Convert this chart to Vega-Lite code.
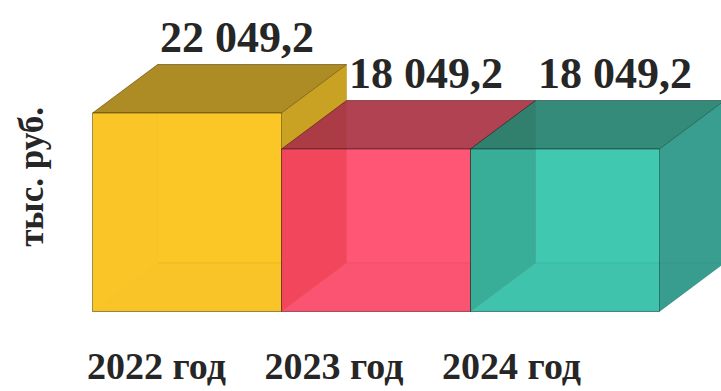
{
  "$schema": "https://vega.github.io/schema/vega-lite/v6.json",
  "autosize": {"type": "none"},
  "padding": {"left": 92.5, "top": 41.4428, "right": 61.5, "bottom": 79.5572},
  "width": 567,
  "height": 270,
  "background": "white",
  "config": {
    "view": {"stroke": null},
    "locale": {"number": {"decimal": ",", "thousands": " ", "grouping": [3], "currency": ["", ""]}}
  },
  "data": {"values": [
    {"year": "2022 год", "value": 22049.2},
    {"year": "2023 год", "value": 18049.2},
    {"year": "2024 год", "value": 18049.2}
  ]},
  "layer": [
    {
      "layer": [
        {
          "mark": {"type": "bar", "xOffset": 65, "yOffset": -48.44, "y2Offset": -48.44, "fillOpacity": 0.88, "stroke": "#000", "strokeOpacity": 0.15, "strokeWidth": 1},
          "encoding": {
            "x": {"field": "year", "type": "nominal", "scale": {"type": "band", "paddingInner": 0, "paddingOuter": 0}, "axis": null},
            "y": {"field": "value", "type": "quantitative", "scale": {"domain": [0, 30000]}, "axis": {"title": "тыс. руб.", "labels": false, "ticks": false, "domain": false, "grid": false, "titleFont": "Liberation Serif", "titleFontSize": 35, "titleFontWeight": "bold", "titleColor": "#262626", "titlePadding": 43}},
            "y2": {"datum": 0},
            "color": {"field": "year", "type": "nominal", "scale": {"range": ["#FBC520", "#FF5070", "#3AC6AE"]}, "legend": null}
          }
        },
        {
          "mark": {"type": "point", "shape": "M-94.5,0L94.5,0L159.5,-48.44L-29.5,-48.44Z", "size": 4, "filled": true, "opacity": 1, "fillOpacity": 0.88, "stroke": "#000", "strokeOpacity": 0.15, "strokeWidth": 1},
          "encoding": {
            "x": {"field": "year", "type": "nominal", "scale": {"type": "band", "paddingInner": 0, "paddingOuter": 0}, "axis": null},
            "y": {"datum": 0, "type": "quantitative", "scale": {"domain": [0, 30000]}, "axis": {"title": "тыс. руб.", "labels": false, "ticks": false, "domain": false, "grid": false, "titleFont": "Liberation Serif", "titleFontSize": 35, "titleFontWeight": "bold", "titleColor": "#262626", "titlePadding": 43}},
            "color": {"field": "year", "type": "nominal", "scale": {"range": ["#F0BC1E", "#F04A62", "#36B4A0"]}, "legend": null}
          }
        },
        {
          "mark": {"type": "bar", "width": 65, "xOffset": 127, "y2Offset": -48.44, "fillOpacity": 0.88, "strokeWidth": 0},
          "encoding": {
            "x": {"field": "year", "type": "nominal", "scale": {"type": "band", "paddingInner": 0, "paddingOuter": 0}, "axis": null},
            "y": {"field": "value", "type": "quantitative", "scale": {"domain": [0, 30000]}, "axis": {"title": "тыс. руб.", "labels": false, "ticks": false, "domain": false, "grid": false, "titleFont": "Liberation Serif", "titleFontSize": 35, "titleFontWeight": "bold", "titleColor": "#262626", "titlePadding": 43}},
            "y2": {"datum": 0},
            "color": {"field": "year", "type": "nominal", "scale": {"range": ["#C29B20", "#C83A4A", "#35978A"]}, "legend": null}
          }
        },
        {
          "mark": {"type": "point", "shape": "M94.5,0L159.5,-48.44L159.5,0Z", "size": 4, "filled": true, "opacity": 1, "fillOpacity": 0.88, "strokeWidth": 0},
          "encoding": {
            "x": {"field": "year", "type": "nominal", "scale": {"type": "band", "paddingInner": 0, "paddingOuter": 0}, "axis": null},
            "y": {"field": "value", "type": "quantitative", "scale": {"domain": [0, 30000]}, "axis": {"title": "тыс. руб.", "labels": false, "ticks": false, "domain": false, "grid": false, "titleFont": "Liberation Serif", "titleFontSize": 35, "titleFontWeight": "bold", "titleColor": "#262626", "titlePadding": 43}},
            "color": {"field": "year", "type": "nominal", "scale": {"range": ["#C29B20", "#C83A4A", "#35978A"]}, "legend": null}
          }
        },
        {
          "mark": {"type": "point", "shape": "M94.5,-48.44L94.5,0L159.5,-48.44Z", "size": 4, "filled": true, "opacity": 1, "fillOpacity": 0.88, "strokeWidth": 0},
          "encoding": {
            "x": {"field": "year", "type": "nominal", "scale": {"type": "band", "paddingInner": 0, "paddingOuter": 0}, "axis": null},
            "y": {"datum": 0, "type": "quantitative", "scale": {"domain": [0, 30000]}, "axis": {"title": "тыс. руб.", "labels": false, "ticks": false, "domain": false, "grid": false, "titleFont": "Liberation Serif", "titleFontSize": 35, "titleFontWeight": "bold", "titleColor": "#262626", "titlePadding": 43}},
            "color": {"field": "year", "type": "nominal", "scale": {"range": ["#C29B20", "#C83A4A", "#35978A"]}, "legend": null}
          }
        },
        {
          "mark": {"type": "bar", "width": 65, "xOffset": -62, "y2Offset": -48.44, "fillOpacity": 0.88, "strokeWidth": 0},
          "encoding": {
            "x": {"field": "year", "type": "nominal", "scale": {"type": "band", "paddingInner": 0, "paddingOuter": 0}, "axis": null},
            "y": {"field": "value", "type": "quantitative", "scale": {"domain": [0, 30000]}, "axis": {"title": "тыс. руб.", "labels": false, "ticks": false, "domain": false, "grid": false, "titleFont": "Liberation Serif", "titleFontSize": 35, "titleFontWeight": "bold", "titleColor": "#262626", "titlePadding": 43}},
            "y2": {"datum": 0},
            "color": {"field": "year", "type": "nominal", "scale": {"range": ["#F8C01E", "#D42030", "#207A66"]}, "legend": null}
          }
        },
        {
          "mark": {"type": "point", "shape": "M-94.5,0L-29.5,-48.44L-29.5,0Z", "size": 4, "filled": true, "opacity": 1, "fillOpacity": 0.88, "strokeWidth": 0},
          "encoding": {
            "x": {"field": "year", "type": "nominal", "scale": {"type": "band", "paddingInner": 0, "paddingOuter": 0}, "axis": null},
            "y": {"field": "value", "type": "quantitative", "scale": {"domain": [0, 30000]}, "axis": {"title": "тыс. руб.", "labels": false, "ticks": false, "domain": false, "grid": false, "titleFont": "Liberation Serif", "titleFontSize": 35, "titleFontWeight": "bold", "titleColor": "#262626", "titlePadding": 43}},
            "color": {"field": "year", "type": "nominal", "scale": {"range": ["#F8C01E", "#D42030", "#207A66"]}, "legend": null}
          }
        },
        {
          "mark": {"type": "point", "shape": "M-94.5,-48.44L-94.5,0L-29.5,-48.44Z", "size": 4, "filled": true, "opacity": 1, "fillOpacity": 0.88, "strokeWidth": 0},
          "encoding": {
            "x": {"field": "year", "type": "nominal", "scale": {"type": "band", "paddingInner": 0, "paddingOuter": 0}, "axis": null},
            "y": {"datum": 0, "type": "quantitative", "scale": {"domain": [0, 30000]}, "axis": {"title": "тыс. руб.", "labels": false, "ticks": false, "domain": false, "grid": false, "titleFont": "Liberation Serif", "titleFontSize": 35, "titleFontWeight": "bold", "titleColor": "#262626", "titlePadding": 43}},
            "color": {"field": "year", "type": "nominal", "scale": {"range": ["#F8C01E", "#D42030", "#207A66"]}, "legend": null}
          }
        },
        {
          "mark": {"type": "point", "shape": "M-94.5,0L94.5,0L159.5,-48.44L-29.5,-48.44Z", "size": 4, "filled": true, "opacity": 1, "fillOpacity": 0.88, "stroke": "#000", "strokeOpacity": 0.3, "strokeWidth": 1},
          "encoding": {
            "x": {"field": "year", "type": "nominal", "scale": {"type": "band", "paddingInner": 0, "paddingOuter": 0}, "axis": null},
            "y": {"field": "value", "type": "quantitative", "scale": {"domain": [0, 30000]}, "axis": {"title": "тыс. руб.", "labels": false, "ticks": false, "domain": false, "grid": false, "titleFont": "Liberation Serif", "titleFontSize": 35, "titleFontWeight": "bold", "titleColor": "#262626", "titlePadding": 43}},
            "color": {"field": "year", "type": "nominal", "scale": {"range": ["#A38322", "#A53D4A", "#318270"]}, "legend": null}
          }
        },
        {
          "mark": {"type": "bar", "fillOpacity": 0.7, "stroke": "#000", "strokeOpacity": 0.35, "strokeWidth": 1},
          "encoding": {
            "x": {"field": "year", "type": "nominal", "scale": {"type": "band", "paddingInner": 0, "paddingOuter": 0}, "axis": null},
            "y": {"field": "value", "type": "quantitative", "scale": {"domain": [0, 30000]}, "axis": {"title": "тыс. руб.", "labels": false, "ticks": false, "domain": false, "grid": false, "titleFont": "Liberation Serif", "titleFontSize": 35, "titleFontWeight": "bold", "titleColor": "#262626", "titlePadding": 43}},
            "y2": {"datum": 0},
            "color": {"field": "year", "type": "nominal", "scale": {"range": ["#FBC520", "#FF5070", "#3AC6AE"]}, "legend": null}
          }
        },
        {
          "mark": {"type": "text", "font": "Liberation Serif", "fontSize": 44, "fontWeight": "bold", "fill": "#262626", "align": "center", "baseline": "alphabetic", "dx": 50, "dy": -61},
          "encoding": {
            "x": {"field": "year", "type": "nominal", "scale": {"type": "band", "paddingInner": 0, "paddingOuter": 0}, "axis": null},
            "y": {"field": "value", "type": "quantitative", "scale": {"domain": [0, 30000]}, "axis": {"title": "тыс. руб.", "labels": false, "ticks": false, "domain": false, "grid": false, "titleFont": "Liberation Serif", "titleFontSize": 35, "titleFontWeight": "bold", "titleColor": "#262626", "titlePadding": 43}},
            "text": {"field": "value", "type": "quantitative", "format": ",.1f"}
          }
        }
      ],
      "resolve": {"scale": {"color": "independent"}}
    },
    {
      "mark": {"type": "text", "font": "Liberation Serif", "fontSize": 38, "fontWeight": "bold", "fill": "#262626", "align": "center", "baseline": "alphabetic", "dy": 67.5},
      "encoding": {
        "x": {"field": "year", "type": "nominal", "scale": {"type": "point", "padding": 0.597, "align": 0.302}, "axis": null},
        "y": {"datum": 0, "type": "quantitative", "scale": {"domain": [0, 30000]}, "axis": {"title": "тыс. руб.", "labels": false, "ticks": false, "domain": false, "grid": false, "titleFont": "Liberation Serif", "titleFontSize": 35, "titleFontWeight": "bold", "titleColor": "#262626", "titlePadding": 43}},
        "text": {"field": "year", "type": "nominal"}
      }
    }
  ],
  "resolve": {"scale": {"x": "independent"}}
}
